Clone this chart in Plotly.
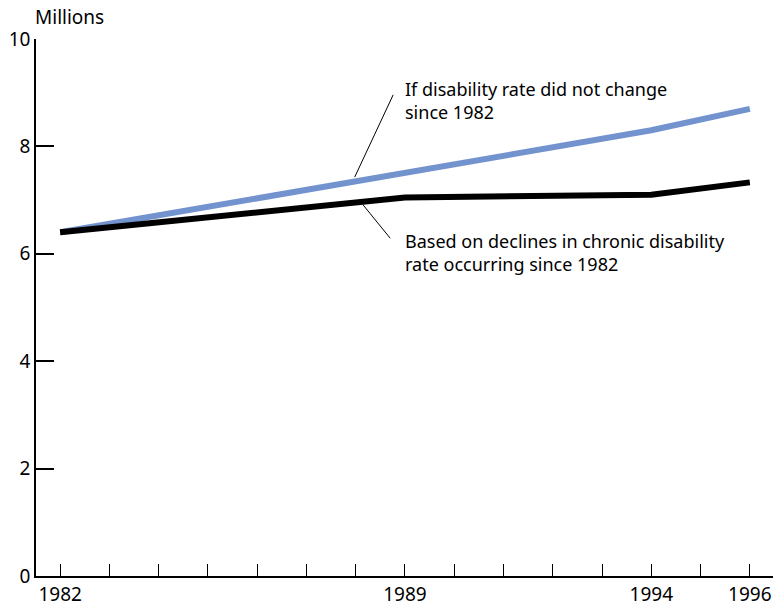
import plotly.graph_objects as go

years = [1982, 1989, 1994, 1996]
no_change = [6.4, 7.5, 8.3, 8.7]
declines = [6.4, 7.05, 7.1, 7.33]

tick_years = list(range(1982, 1997))
tick_labels = ["1982" if y == 1982 else "1989" if y == 1989 else "1994" if y == 1994 else "1996" if y == 1996 else "" for y in tick_years]
y_ticks = [0, 2, 4, 6, 8, 10]

label_no_change = "If disability rate did not change<br>since 1982"
label_declines = "Based on declines in chronic disability<br>rate occurring since 1982"

FONT = "Noto Sans"
BLUE = "#7393CE"

fig = go.Figure()
fig.add_trace(go.Scatter(x=years, y=no_change, mode="lines",
                         line=dict(color=BLUE, width=6), showlegend=False, hoverinfo="skip"))
fig.add_trace(go.Scatter(x=years, y=declines, mode="lines",
                         line=dict(color="black", width=6), showlegend=False, hoverinfo="skip"))

# leader lines
fig.add_shape(type="line", x0=1987.98, y0=7.43, x1=1988.76, y1=8.96,
              line=dict(color="black", width=1))
fig.add_shape(type="line", x0=1988.15, y0=6.91, x1=1988.70, y1=6.29,
              line=dict(color="black", width=1))

fig.add_annotation(x=1988.96, y=8.86, xref="x", yref="y", text=label_no_change,
                   showarrow=False, xanchor="left", yanchor="middle", align="left",
                   font=dict(family=FONT, size=18, color="black"))
fig.add_annotation(x=1988.96, y=6.03, xref="x", yref="y", text=label_declines,
                   showarrow=False, xanchor="left", yanchor="middle", align="left",
                   font=dict(family=FONT, size=18, color="black"))
fig.add_annotation(x=0, y=1, xref="paper", yref="paper", text="Millions",
                   showarrow=False, xanchor="left", yanchor="bottom", yshift=7, xshift=-3,
                   font=dict(family=FONT, size=19, color="black"))

fig.update_layout(
    width=773, height=607,
    margin=dict(l=36, r=0, t=39, b=31, autoexpand=False),
    paper_bgcolor="white", plot_bgcolor="white",
    font=dict(family=FONT, size=19, color="black"),
)
fig.update_xaxes(range=[1981.51, 1996.47], tickvals=tick_years, ticktext=tick_labels,
                 ticks="inside", ticklen=12, tickwidth=1, tickcolor="black",
                 showline=True, linecolor="black", linewidth=1.5,
                 showgrid=False, zeroline=False, tickfont=dict(size=19))
fig.update_yaxes(range=[0, 10], tickvals=y_ticks,
                 ticks="inside", ticklen=18, tickwidth=1.5, tickcolor="black",
                 showline=True, linecolor="black", linewidth=1.5,
                 showgrid=False, zeroline=False, tickfont=dict(size=19))

fig.write_html("out.html", config={"displayModeBar": False},
               post_script="document.body.style.margin='0';document.body.style.overflow='hidden';")
